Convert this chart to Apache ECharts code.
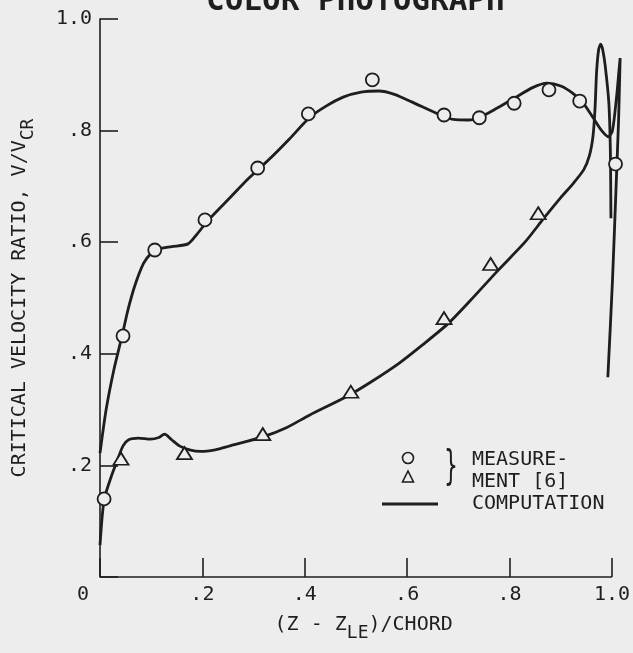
<!DOCTYPE html>
<html>
<head>
<meta charset="utf-8">
<script src="https://cdn.jsdelivr.net/npm/echarts@6/dist/echarts.min.js"></script>
<style>
html,body{margin:0;padding:0;background:#ededed;}
#chart{width:633px;height:653px;}
</style>
</head>
<body>
<div id="chart"></div>
<script>
// Tick values and labels
var xTickValues = [0, 0.2, 0.4, 0.6, 0.8, 1.0];
var xTickLabels = ['0', '.2', '.4', '.6', '.8', '1.0'];
var yTickValues = [0, 0.2, 0.4, 0.6, 0.8, 1.0];
var yTickLabels = ['', '.2', '.4', '.6', '.8', '1.0'];

// Computation, upper-surface curve (x, V/Vcr)
var upperComputation = [
  [0.000,0.222],[0.012,0.300],[0.027,0.371],[0.043,0.432],[0.055,0.480],
  [0.068,0.522],[0.085,0.562],[0.100,0.580],[0.115,0.588],[0.140,0.592],
  [0.172,0.597],[0.190,0.615],[0.210,0.638],[0.250,0.676],[0.290,0.714],
  [0.330,0.748],[0.370,0.785],[0.409,0.823],[0.440,0.843],[0.475,0.860],
  [0.510,0.869],[0.545,0.871],[0.575,0.865],[0.610,0.851],[0.660,0.830],
  [0.690,0.820],[0.720,0.819],[0.742,0.824],[0.775,0.840],[0.809,0.858],
  [0.845,0.877],[0.873,0.885],[0.900,0.880],[0.925,0.866],[0.945,0.848],
  [0.964,0.822],[0.980,0.800],[0.993,0.789],[1.001,0.800],[1.009,0.860],
  [1.014,0.910],[1.016,0.930],[1.013,0.820],[1.008,0.697],[1.001,0.530],
  [0.992,0.358]
];

// Computation, lower-surface curve
var lowerComputation = [
  [0.000,0.057],[0.008,0.138],[0.022,0.180],[0.035,0.212],[0.045,0.235],
  [0.056,0.246],[0.075,0.249],[0.099,0.247],[0.115,0.250],[0.126,0.256],
  [0.140,0.246],[0.155,0.235],[0.175,0.228],[0.196,0.225],[0.225,0.228],
  [0.254,0.235],[0.318,0.251],[0.365,0.268],[0.409,0.290],[0.481,0.323],
  [0.530,0.350],[0.584,0.383],[0.630,0.416],[0.681,0.455],[0.730,0.502],
  [0.778,0.550],[0.830,0.600],[0.867,0.643],[0.900,0.680],[0.925,0.706],
  [0.945,0.730],[0.956,0.755],[0.963,0.790],[0.967,0.840],[0.970,0.905],
  [0.974,0.945],[0.978,0.955],[0.982,0.945],[0.987,0.915],[0.994,0.849],
  [0.997,0.760],[0.998,0.643]
];

// Measurement [6]: circles
var circleX = [0.008,0.045,0.107,0.205,0.308,0.407,0.532,0.672,0.741,0.809,0.877,0.937,1.007];
var circleY = [0.140,0.432,0.586,0.640,0.733,0.830,0.891,0.828,0.823,0.849,0.873,0.853,0.740];

// Measurement [6]: triangles
var triangleX = [0.041,0.165,0.318,0.490,0.672,0.763,0.856];
var triangleY = [0.212,0.222,0.256,0.332,0.464,0.561,0.652];

var FONT = 'DejaVu Sans Mono';
var INK = '#1e1e1e';
var BG = '#ededed';

function zip(a, b) { return a.map(function (v, i) { return [v, b[i]]; }); }
function lookup(vals, labels, v) {
  for (var i = 0; i < vals.length; i++) { if (Math.abs(vals[i] - v) < 1e-6) return labels[i]; }
  return '';
}

var chart = echarts.init(document.getElementById('chart'), null, {renderer: 'canvas'});
chart.setOption({
  backgroundColor: BG,
  animation: false,
  grid: {left: 100, right: 2.5, top: 19, bottom: 76, containLabel: false},
  xAxis: {
    type: 'value', min: 0, max: 1.03,
    axisLine: {show: false},
    axisTick: {show: true, inside: true, length: 19, customValues: xTickValues,
               lineStyle: {color: INK, width: 1.6}},
    splitLine: {show: false},
    axisLabel: {
      margin: 8, color: INK, fontFamily: FONT, fontSize: 20, customValues: xTickValues,
      formatter: function (v) {
        var s = lookup(xTickValues, xTickLabels, v);
        return v === 0 ? '{z|' + s + '}' : s;
      },
      rich: {z: {fontFamily: FONT, fontSize: 20, color: INK, padding: [0, 34, 0, 0]}}
    },
    name: '(Z - Z{sub|LE})/CHORD',
    nameLocation: 'middle', nameGap: 31,
    nameTextStyle: {
      color: INK, fontFamily: FONT, fontSize: 20,
      rich: {sub: {color: INK, fontFamily: FONT, fontSize: 18, padding: [16, 0, 0, 0]}}
    }
  },
  yAxis: {
    type: 'value', min: 0, max: 1, interval: 0.2,
    axisLine: {show: true, lineStyle: {color: INK, width: 1.6}},
    axisTick: {show: true, inside: true, length: 18, lineStyle: {color: INK, width: 1.6}},
    splitLine: {show: false},
    axisLabel: {
      margin: 8, color: INK, fontFamily: FONT, fontSize: 20,
      formatter: function (v) { return lookup(yTickValues, yTickLabels, v); }
    },
    name: 'CRITICAL VELOCITY RATIO, V/V{sub|CR}',
    nameLocation: 'middle', nameGap: 63,
    nameTextStyle: {
      color: INK, fontFamily: FONT, fontSize: 20,
      rich: {sub: {color: INK, fontFamily: FONT, fontSize: 18, padding: [16, 0, 0, 0]}}
    }
  },
  series: [
    {
      type: 'line', data: upperComputation, smooth: 0.25, symbol: 'none', clip: false,
      lineStyle: {color: INK, width: 2.8}, z: 2,
      markLine: {
        silent: true, symbol: 'none', label: {show: false},
        lineStyle: {color: INK, width: 1.6, type: 'solid'},
        data: [[{coord: [0, 0]}, {coord: [1, 0]}]]
      }
    },
    {
      type: 'line', data: lowerComputation, smooth: 0.25, symbol: 'none', clip: false,
      lineStyle: {color: INK, width: 2.8}, z: 2
    },
    {
      type: 'scatter', data: zip(circleX, circleY), symbol: 'circle', symbolSize: 13, clip: false,
      itemStyle: {color: BG, borderColor: INK, borderWidth: 1.8, opacity: 1}, z: 5
    },
    {
      type: 'scatter', data: zip(triangleX, triangleY), symbol: 'triangle', symbolSize: [15, 12], clip: false,
      itemStyle: {color: BG, borderColor: INK, borderWidth: 1.8, opacity: 1}, z: 5
    }
  ],
  graphic: [
    {type: 'text', left: 206, top: -14, z: 10,
     style: {text: 'COLOR PHOTOGRAPH', fontFamily: FONT, fontSize: 31, fontWeight: 'bold', fill: INK}},
    {type: 'circle', shape: {cx: 408, cy: 458, r: 5.5}, z: 10,
     style: {fill: BG, stroke: INK, lineWidth: 1.6}},
    {type: 'polygon', shape: {points: [[408, 471], [402.5, 482], [413.5, 482]]}, z: 10,
     style: {fill: BG, stroke: INK, lineWidth: 1.6}},
    {type: 'line', shape: {x1: 382, y1: 504, x2: 438, y2: 504}, z: 10,
     style: {stroke: INK, lineWidth: 3}},
    {type: 'text', x: 451, y: 469, scaleX: 0.55, z: 10,
     style: {text: '}', fontFamily: 'DejaVu Sans', fontSize: 40, fill: INK, align: 'center', verticalAlign: 'middle'}},
    {type: 'text', x: 472, y: 460, z: 10,
     style: {text: 'MEASURE-', fontFamily: FONT, fontSize: 20, fill: INK, verticalAlign: 'middle'}},
    {type: 'text', x: 472, y: 482, z: 10,
     style: {text: 'MENT [6]', fontFamily: FONT, fontSize: 20, fill: INK, verticalAlign: 'middle'}},
    {type: 'text', x: 472, y: 504, z: 10,
     style: {text: 'COMPUTATION', fontFamily: FONT, fontSize: 20, fill: INK, verticalAlign: 'middle'}}
  ]
});
</script>
</body>
</html>
